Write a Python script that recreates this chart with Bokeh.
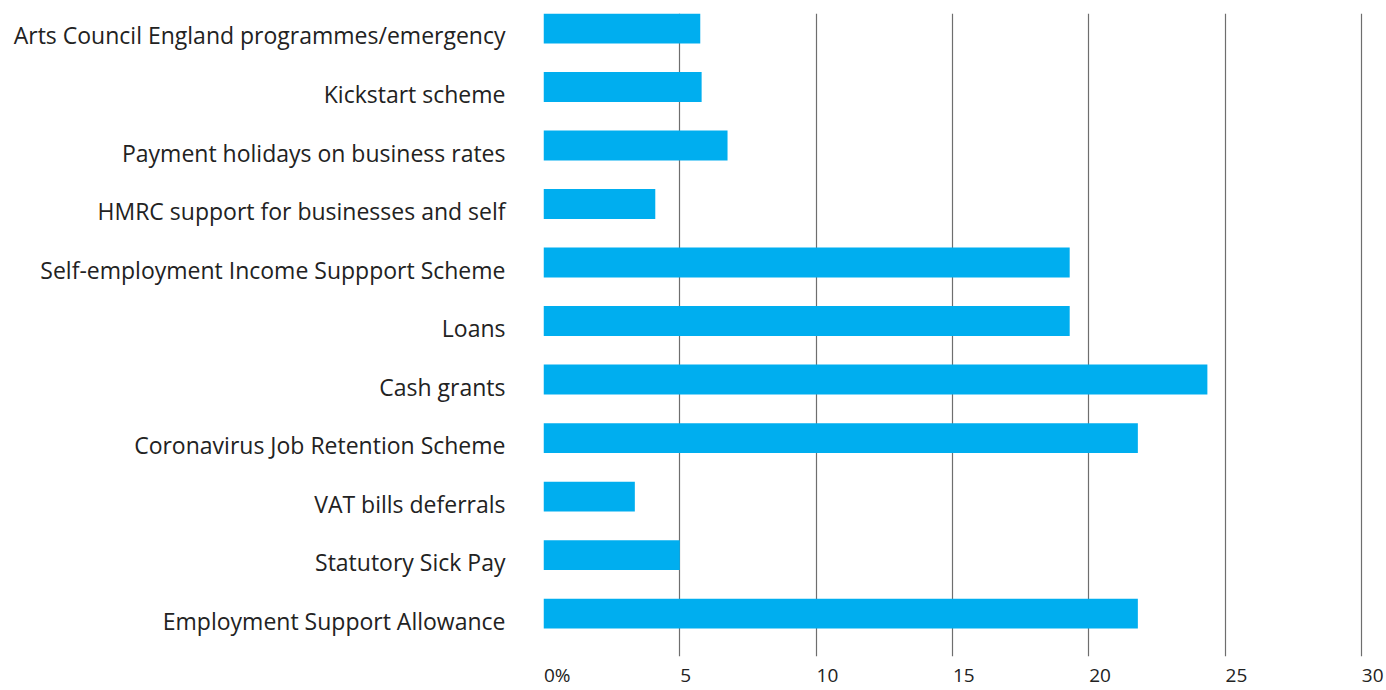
from bokeh.plotting import figure
from bokeh.models import Range1d, FixedTicker, ColumnDataSource
from bokeh.embed import file_html
from bokeh.resources import INLINE

categories = [
    "Arts Council England programmes/emergency",
    "Kickstart scheme",
    "Payment holidays on business rates",
    "HMRC support for businesses and self",
    "Self-employment Income Suppport Scheme",
    "Loans",
    "Cash grants",
    "Coronavirus Job Retention Scheme",
    "VAT bills deferrals",
    "Statutory Sick Pay",
    "Employment Support Allowance",
]
values = [5.75, 5.8, 6.75, 4.1, 19.3, 19.3, 24.35, 21.8, 3.35, 5.0, 21.8]
x_ticks = [0, 5, 10, 15, 20, 25, 30]
x_tick_labels = ["0%", "5", "10", "15", "20", "25", "30"]

n = len(categories)
ypos = [n - 1 - i for i in range(n)]
src = ColumnDataSource(dict(y=ypos, v=values, cat=categories))

X_END = 30.92
FRAME_LEFT = 543
W = 1386
px_per_unit = (W - FRAME_LEFT) / X_END

p = figure(width=W, height=690, output_backend="svg", toolbar_location=None,
           x_range=Range1d(0, X_END), y_range=Range1d(-0.7325, n - 1 + 0.2555),
           min_border_left=FRAME_LEFT, min_border_top=13, min_border_right=0, min_border_bottom=0)
p.outline_line_color = None
p.background_fill_color = "white"

p.hbar(y="y", left=0, right="v", height=0.511, source=src, color="#00AEEF", line_color=None)

# tick labels in the reference start at their grid line (left aligned);
# shift each label's anchor right by half its approximate text width
def half_width_px(s):
    return sum(15.6 if ch == "%" else 10.8 for ch in s) / 2 + 0.5

label_x = [t + half_width_px(l) / px_per_unit for t, l in zip(x_ticks, x_tick_labels)]
p.xaxis.ticker = FixedTicker(ticks=label_x)
p.xaxis.major_label_overrides = {t: l for t, l in zip(label_x, x_tick_labels)}
p.xaxis.axis_line_color = None
p.xaxis.major_tick_line_color = None
p.xaxis.major_tick_out = 0
p.xaxis.major_tick_in = 0
p.xaxis.minor_tick_line_color = None
p.xaxis.major_label_text_font = "Open Sans"
p.xaxis.major_label_text_font_size = "19px"
p.xaxis.major_label_text_color = "#222222"
p.xaxis.major_label_standoff = 5

label_ticks = [y - 0.12 for y in ypos]
p.yaxis.ticker = FixedTicker(ticks=label_ticks)
p.yaxis.major_label_overrides = {t: c for t, c in zip(label_ticks, categories)}
p.yaxis.axis_line_color = None
p.yaxis.major_tick_line_color = None
p.yaxis.major_tick_out = 0
p.yaxis.major_tick_in = 0
p.yaxis.minor_tick_line_color = None
p.yaxis.major_label_text_font = "Open Sans"
p.yaxis.major_label_text_font_size = "23px"
p.yaxis.major_label_text_color = "#222222"
p.yaxis.major_label_standoff = 38

p.xgrid.ticker = FixedTicker(ticks=x_ticks)
p.xgrid.grid_line_color = "#6e6e6e"
p.xgrid.grid_line_width = 1.2
p.xgrid.level = "underlay"
p.ygrid.grid_line_color = None

open("out.html", "w").write(file_html(p, INLINE))
